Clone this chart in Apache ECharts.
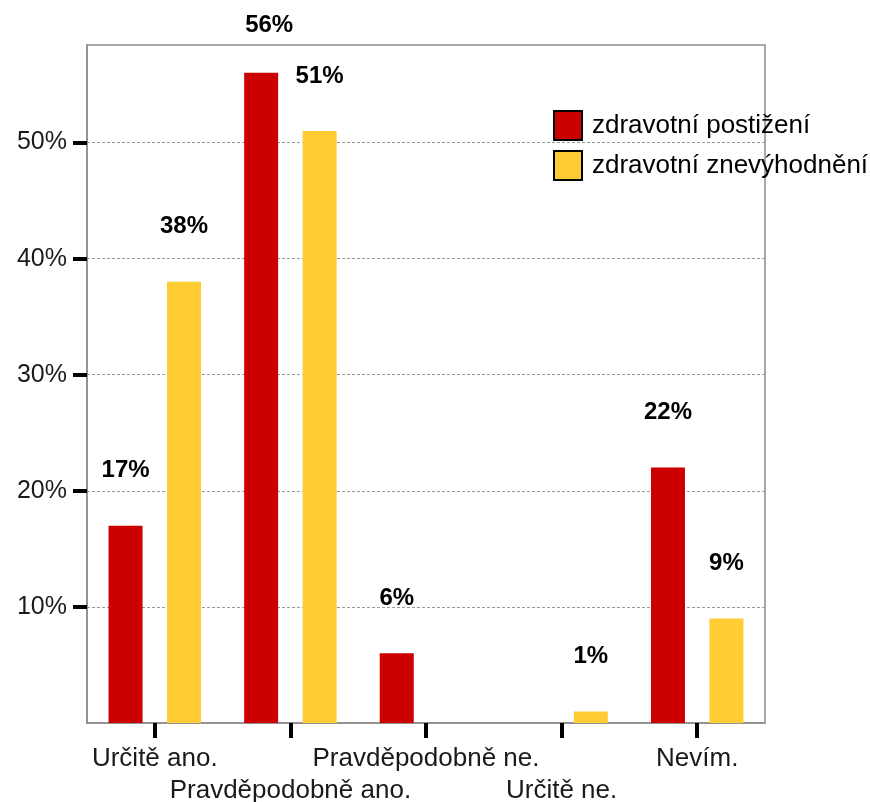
<!DOCTYPE html>
<html>
<head>
<meta charset="utf-8">
<script src="https://cdn.jsdelivr.net/npm/echarts@6/dist/echarts.min.js"></script>
<style>
  html, body { margin: 0; padding: 0; background: #fff; }
  #chart { width: 870px; height: 802px; }
</style>
</head>
<body>
<div id="chart"></div>
<script>
const categories = ['Určitě ano.', 'Pravděpodobně ano.', 'Pravděpodobně ne.', 'Určitě ne.', 'Nevím.']
const seriesNames = ['zdravotní postižení', 'zdravotní znevýhodnění']
const postizeni = [17, 56, 6, 0, 22]
const znevyhodneni = [38, 51, 0, 1, 9]
const yTicks = [10, 20, 30, 40, 50]

const font = '"Liberation Sans", Arial, sans-serif'

const valueLabel = {
  show: true,
  position: 'top',
  distance: 43,
  fontFamily: font,
  fontSize: 24,
  fontWeight: 'bold',
  color: '#000',
  formatter: p => (p.value ? p.value + '%' : '')
}

// 56% sits closer to its bar so it stays inside the picture
const redData = postizeni.map(v => v === 56
  ? { value: v, label: { distance: 35, offset: [8, 0] } }
  : v)

var myChart = echarts.init(document.getElementById('chart'))
myChart.setOption({
  animation: false,
  grid: {
    left: 87, right: 105, top: 45, bottom: 79,
    outerBoundsMode: 'none',
    containLabel: false,
    show: true, borderColor: '#8c8c8c', borderWidth: 1.5
  },
  legend: {
    orient: 'vertical',
    left: 548, top: 105,
    itemWidth: 28, itemHeight: 29, itemGap: 9,
    icon: 'rect',
    itemStyle: { borderColor: '#000', borderWidth: 2 },
    textStyle: { fontFamily: font, fontSize: 26, color: '#000', padding: [0, 0, 0, 5] },
    data: seriesNames
  },
  xAxis: {
    type: 'category',
    data: categories,
    axisLine: { lineStyle: { color: '#8c8c8c', width: 1.5 } },
    axisTick: { show: true, alignWithLabel: true, length: 15, lineStyle: { color: '#000', width: 4 } },
    axisLabel: {
      interval: 0,
      margin: 20,
      fontFamily: font,
      fontSize: 26,
      lineHeight: 32,
      color: '#1a1a1a',
      verticalAlign: 'top',
      formatter: (v, i) => (i % 2 ? '\n' + v : v)
    }
  },
  yAxis: {
    type: 'value',
    min: 0,
    max: 58.4,
    interval: 10,
    axisLine: { show: true, lineStyle: { color: '#8c8c8c', width: 1.5 } },
    axisTick: { show: true, length: 14, customValues: yTicks, lineStyle: { color: '#000', width: 4 } },
    axisLabel: {
      customValues: yTicks,
      margin: 20,
      fontFamily: font,
      fontSize: 25,
      color: '#1a1a1a',
      formatter: v => v + '%'
    },
    splitLine: { lineStyle: { color: '#9a9a9a', type: [3, 2], width: 1 } }
  },
  series: [
    {
      name: seriesNames[0],
      type: 'bar',
      data: redData,
      barWidth: 34,
      barGap: '72%',
      itemStyle: { color: '#CC0000' },
      label: valueLabel
    },
    {
      name: seriesNames[1],
      type: 'bar',
      data: znevyhodneni,
      barWidth: 34,
      barGap: '72%',
      itemStyle: { color: '#FFCC33' },
      label: valueLabel
    }
  ]
})
</script>
</body>
</html>
